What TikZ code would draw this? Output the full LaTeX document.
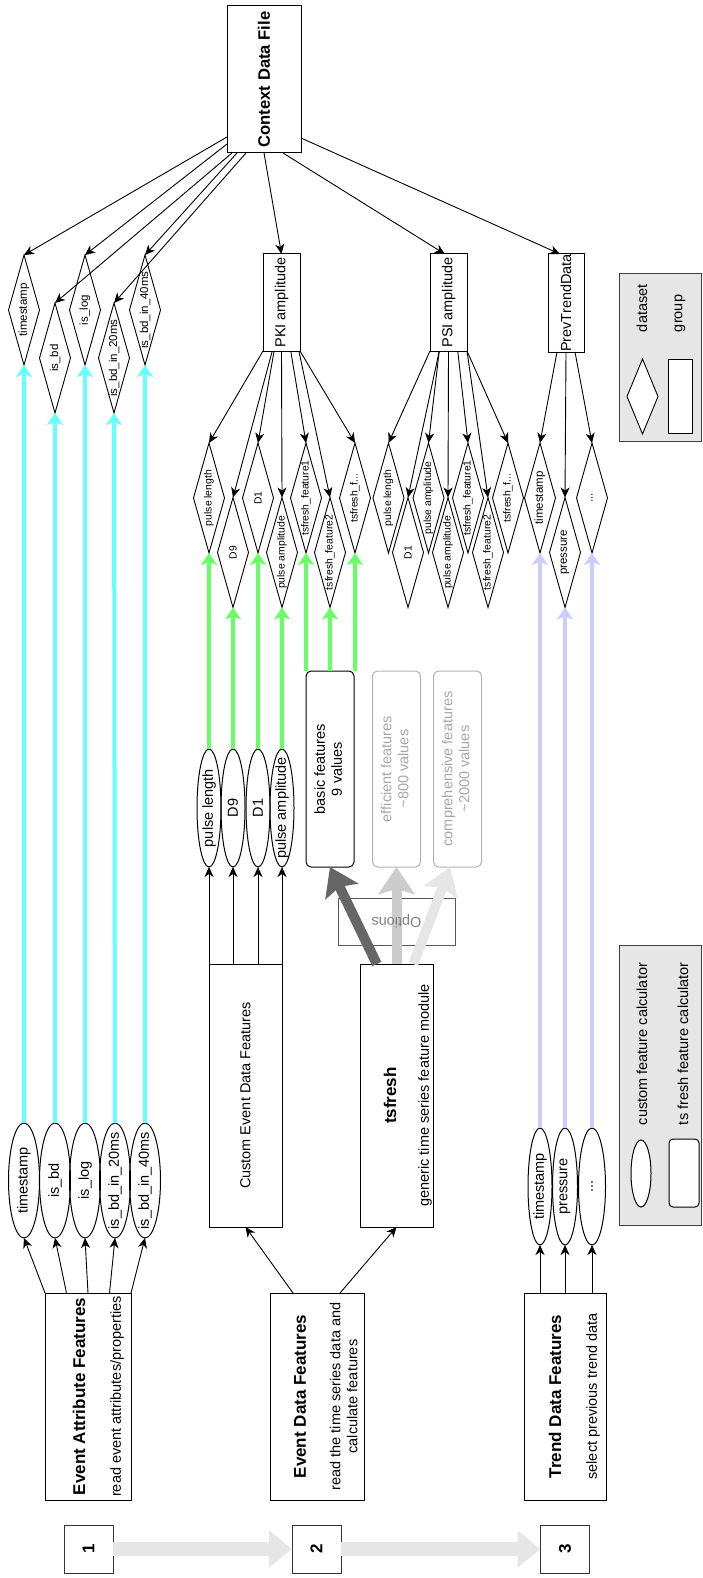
\documentclass[tikz,border=0pt]{standalone}
\usepackage{fontspec}
\setmainfont{Liberation Sans}
\usetikzlibrary{arrows.meta,calc,shapes.geometric}

\definecolor{cyanarrow}{HTML}{66FFFF}
\definecolor{greenarrow}{HTML}{66FF66}
\definecolor{lavarrow}{HTML}{CCCCFF}
\definecolor{optdark}{HTML}{666666}
\definecolor{optlight}{HTML}{CCCCCC}
\definecolor{optpale}{HTML}{E6E6E6}
\definecolor{legendfill}{HTML}{E6E6E6}
\definecolor{stepgray}{HTML}{E6E6E6}
\definecolor{mutedtext}{HTML}{A6A6A6}
\definecolor{mutedline}{HTML}{B3B3B3}
\definecolor{optiontext}{HTML}{808080}

\newcommand{\uptext}[1]{\rotatebox{90}{#1}}
\newcommand{\fsmall}{\fontsize{10.4}{12.5}\selectfont}
\newcommand{\fmid}{\fontsize{11.5}{13.8}\selectfont}
\newcommand{\fnorm}{\fontsize{14.5}{17}\selectfont}
\newcommand{\fttl}{\fontsize{17}{20}\selectfont\bfseries}
\newcommand{\fcdf}{\fontsize{16.6}{20}\selectfont\bfseries}

\begin{document}
\begin{tikzpicture}[x=1pt, y=-1pt,
  every node/.style={inner sep=0pt, outer sep=0pt},
  grp/.style={draw, line width=1pt, rectangle, font=\fnorm},
  pdia/.style={diamond, draw, line width=0.9pt, minimum width=31pt, minimum height=110pt,
    label={[font=\fsmall]center:\uptext{#1}}},
  adia/.style={diamond, draw, line width=0.9pt, minimum width=31pt, minimum height=110pt,
    label={[font=\fmid]center:\uptext{#1}}},
  ell/.style={ellipse, draw, line width=1pt, label={[font=\fnorm]center:\uptext{#1}}},
  optbox/.style={draw, rounded corners=5pt, line width=1pt, minimum width=48pt, minimum height=196pt, font=\fnorm},
  arr/.style={draw, line width=0.9pt, -{Stealth[length=10pt,width=9pt,inset=3pt]}},
  fatarr/.style={line width=4pt, -{Stealth[length=12pt,width=16pt,inset=3pt]}},
  optarr/.style={line width=10pt, -{Stealth[length=27pt,width=36pt,inset=5pt]}},
  steparr/.style={draw=stepgray, line width=14pt, -{Triangle[length=23pt,width=36pt]}},
  legendbox/.style={draw=black!75, fill=legendfill, line width=1pt}
]
\useasboundingbox (0,0) rectangle (702,1578);

% ---------- context data file and its groups ----------
\node[grp, minimum width=74pt, minimum height=147pt, font=\fcdf] (cdf) at (264,79.5) {\uptext{Context Data File}};
\node[grp, minimum width=37pt, minimum height=97pt] (pki) at (281.5,302.5) {\uptext{PKI amplitude}};
\node[grp, minimum width=37pt, minimum height=97pt] (psi) at (448.5,302.5) {\uptext{PSI amplitude}};
\node[grp, minimum width=36pt, minimum height=98pt] (ptd) at (566,303) {\uptext{PrevTrendData}};

% ---------- event attribute datasets ----------
\node[adia=timestamp] (dts) at (24,310) {};
\node[adia=is\_bd] (dbd) at (55,358) {};
\node[adia=is\_log] (dlog) at (85,310) {};
\node[adia=is\_bd\_in\_20ms] (d20) at (114,358) {};
\node[adia=is\_bd\_in\_40ms] (d40) at (145,310) {};

% ---------- PKI datasets ----------
\node[pdia=pulse length] (ppl) at (209,498) {};
\node[pdia=D9] (pd9) at (233,552.5) {};
\node[pdia=D1] (pd1) at (258,498) {};
\node[pdia=pulse amplitude] (ppa) at (282,552.5) {};
\node[pdia=tsfresh\_feature1] (pf1) at (306,498) {};
\node[pdia=tsfresh\_feature2] (pf2) at (330,552.5) {};
\node[pdia=tsfresh\_f...] (pfx) at (355,498) {};

% ---------- PSI datasets ----------
\node[pdia=pulse length] (spl) at (388.5,498) {};
\node[pdia=D1] (sd1) at (408,552.5) {};
\node[pdia=pulse amplitude] (spa) at (428.5,498) {};
\node[pdia=pulse amplitude] (spb) at (448,552.5) {};
\node[pdia=tsfresh\_feature1] (sf1) at (468,498) {};
\node[pdia=tsfresh\_feature2] (sf2) at (488,552.5) {};
\node[pdia=tsfresh\_f...] (sfx) at (508,498) {};

% ---------- trend datasets ----------
\node[adia=timestamp] (tts) at (540,498) {};
\node[adia=pressure] (tpr) at (565,552.5) {};
\node[adia=...] (tdd) at (592,498) {};

% ---------- connectors from the context file ----------
\draw[arr] ($(cdf.south west)+(0,-16)$) -- (dts.north);
\draw[arr] ($(cdf.south west)+(0,-9)$) -- (dlog.north);
\draw[arr] ($(cdf.south west)+(5,0)$) -- (dbd.north);
\draw[arr] ($(cdf.south west)+(10,0)$) -- (d40.north);
\draw[arr] ($(cdf.south west)+(19,0)$) -- (d20.north);
\draw[arr] (cdf.south) -- (pki.north);
\draw[arr] ($(cdf.south west)+(56,0)$) -- ($(psi.north west)!0.4!(psi.north east)$);
\draw[arr] ($(cdf.south east)+(0,-15)$) -- ($(ptd.north west)!0.33!(ptd.north east)$);

\foreach \t/\f in {ppl/0, pd9/0.25, pd1/0.3, ppa/0.5, pf1/0.75, pf2/0.97, pfx/1}
  \draw[arr] ($(pki.south west)!\f!(pki.south east)$) -- (\t.north);
\foreach \t/\f in {spl/0, sd1/0.25, spa/0.25, spb/0.5, sf1/0.75, sf2/1, sfx/1}
  \draw[arr] ($(psi.south west)!\f!(psi.south east)$) -- (\t.north);
\foreach \t/\f in {tts/0.25, tpr/0.5, tdd/0.75}
  \draw[arr] ($(ptd.south west)!\f!(ptd.south east)$) -- (\t.north);

% ---------- step 1: event attribute features ----------
\node[ell=timestamp, minimum width=31pt, minimum height=115pt] (ets) at (24,1180.5) {};
\node[ell=is\_bd, minimum width=31pt, minimum height=115pt] (ebd) at (55,1180.5) {};
\node[ell=is\_log, minimum width=31pt, minimum height=115pt] (elog) at (85,1180.5) {};
\node[ell=is\_bd\_in\_20ms, minimum width=31pt, minimum height=115pt] (e20) at (115,1180.5) {};
\node[ell=is\_bd\_in\_40ms, minimum width=31pt, minimum height=115pt] (e40) at (145,1180.5) {};

\node[grp, minimum width=86pt, minimum height=207pt] (eaf) at (88,1396.5) {};
\node[font=\fttl] (eaft) at (79,1396.5) {\uptext{Event Attribute Features}};
\node[font=\fnorm] (eafs) at (117,1396.5) {\uptext{read event attributes/properties}};

\foreach \e/\f in {ets/0, ebd/0.25, elog/0.5, e20/0.75, e40/1}
  \draw[arr] ($(eaf.north west)!\f!(eaf.north east)$) -- (\e.south);
\foreach \e/\d in {ets/dts, ebd/dbd, elog/dlog, e20/d20, e40/d40}
  \draw[fatarr, cyanarrow] (\e.north) -- (\d.south);

% ---------- step 2: event data features ----------
\node[ell=pulse length, minimum width=24pt, minimum height=118pt] (cpl) at (209,808) {};
\node[ell=D9, minimum width=24pt, minimum height=118pt] (cd9) at (233,808) {};
\node[ell=D1, minimum width=24pt, minimum height=118pt] (cd1) at (258,808) {};
\node[ell=pulse amplitude, minimum width=24pt, minimum height=118pt] (cpa) at (282,808) {};

\node[optbox] (basic) at (330,769) {\uptext{\begin{tabular}{@{}c@{}}basic features\\9 values\end{tabular}}};
\node[optbox, draw=mutedline, text=mutedtext] (eff) at (396.5,769) {\uptext{\begin{tabular}{@{}c@{}}efficient features\\\textasciitilde800 values\end{tabular}}};
\node[optbox, draw=mutedline, text=mutedtext] (comp) at (457.5,769) {\uptext{\begin{tabular}{@{}c@{}}comprehensive features\\\textasciitilde2000 values\end{tabular}}};

\node[grp, minimum width=73pt, minimum height=263pt] (cust) at (245.5,1095.5) {\uptext{Custom Event Data Features}};
\node[grp, minimum width=73pt, minimum height=263pt] (tsf) at (396.5,1095.5) {};
\node[font=\fttl] (tsft) at (390,1095.5) {\uptext{tsfresh}};
\node[font=\fnorm] (tsfs) at (425,1095.5) {\uptext{generic time series feature module}};

\node[grp, minimum width=94pt, minimum height=207pt] (edf) at (317,1396.5) {};
\node[font=\fttl] (edft) at (300,1396.5) {\uptext{Event Data Features}};
\node[font=\fnorm] (edfs) at (345.5,1396.5) {\uptext{\begin{tabular}{@{}c@{}}read the time series data and\\calculate features\end{tabular}}};

\draw[arr] ($(edf.north west)!0.245!(edf.north east)$) -- (cust.south);
\draw[arr] ($(edf.north west)!0.745!(edf.north east)$) -- (tsf.south);
\foreach \e in {cpl, cd9, cd1, cpa}
  \draw[arr] (\e.south |- cust.north) -- (\e.south);
\foreach \e/\d in {cpl/ppl, cd9/pd9, cd1/pd1, cpa/ppa}
  \draw[fatarr, greenarrow] (\e.north) -- (\d.south);
\foreach \d in {pf1, pf2, pfx}
  \draw[fatarr, greenarrow] (\d.south |- basic.north) -- (\d.south);

% tsfresh options
\node[draw=black!65, line width=1pt, minimum width=117pt, minimum height=47pt] (opt) at (396.5,921.5) {};
\draw[optarr, optdark] ($(tsf.north west)!0.23!(tsf.north east)$) -- (basic.south);
\draw[optarr, optlight] (tsf.north) -- (eff.south);
\draw[optarr, optpale] ($(tsf.north west)!0.73!(tsf.north east)$) -- ($(comp.south west)!0.35!(comp.south east)$);
\node[font=\fnorm, text=optiontext, rotate=180] (optt) at (opt.center) {Options};

% ---------- step 3: trend data features ----------
\node[ell=timestamp, minimum width=24pt, minimum height=117pt] (tte) at (540,1186.5) {};
\node[ell=pressure, minimum width=25pt, minimum height=117pt] (tpe) at (565,1186.5) {};
\node[ell=..., minimum width=27pt, minimum height=117pt] (tde) at (592,1186.5) {};

\node[grp, minimum width=82pt, minimum height=207pt] (trend) at (565,1396.5) {};
\node[font=\fttl] (trendt) at (555,1396.5) {\uptext{Trend Data Features}};
\node[font=\fnorm] (trends) at (593,1396.5) {\uptext{select previous trend data}};

\foreach \e in {tte, tpe, tde}
  \draw[arr] (\e.south |- trend.north) -- (\e.south);
\foreach \e/\d in {tte/tts, tpe/tpr, tde/tdd}
  \draw[fatarr, lavarrow] (\e.north) -- (\d.south);

% ---------- legends ----------
\node[legendbox, minimum width=82pt, minimum height=167pt] (leg1) at (660,357.5) {};
\node[diamond, draw, fill=white, line width=0.9pt, minimum width=31pt, minimum height=75pt] (legd) at (642.5,396.5) {};
\node[draw, fill=white, line width=1pt, minimum width=24pt, minimum height=74pt] (legg) at (680,396) {};
\node[font=\fnorm, anchor=south] (legdt) at (642,332) {\uptext{dataset}};
\node[font=\fnorm, anchor=south] (leggt) at (680,332) {\uptext{group}};

\node[legendbox, minimum width=82pt, minimum height=280pt] (leg2) at (660,1085) {};
\node[ellipse, draw, fill=white, line width=1pt, minimum width=20pt, minimum height=67pt] (lege) at (641,1173.5) {};
\node[draw, rounded corners=4pt, fill=white, line width=1pt, minimum width=30pt, minimum height=68pt] (legr) at (684,1173) {};
\node[font=\fnorm, anchor=south] (leget) at (642,1125) {\uptext{custom feature calculator}};
\node[font=\fnorm, anchor=south] (legrt) at (683,1125) {\uptext{ts fresh feature calculator}};

% ---------- processing steps ----------
\node[grp, draw=black!80, minimum width=49pt, minimum height=48pt, font=\fttl] (s1) at (88.5,1549) {\uptext{1}};
\node[grp, draw=black!80, minimum width=49pt, minimum height=48pt, font=\fttl] (s2) at (316.5,1549) {\uptext{2}};
\node[grp, draw=black!80, minimum width=49pt, minimum height=48pt, font=\fttl] (s3) at (565,1549) {\uptext{3}};
\draw[steparr] (s1) -- (s2);
\draw[steparr] (s2) -- (s3);
\end{tikzpicture}
\end{document}
